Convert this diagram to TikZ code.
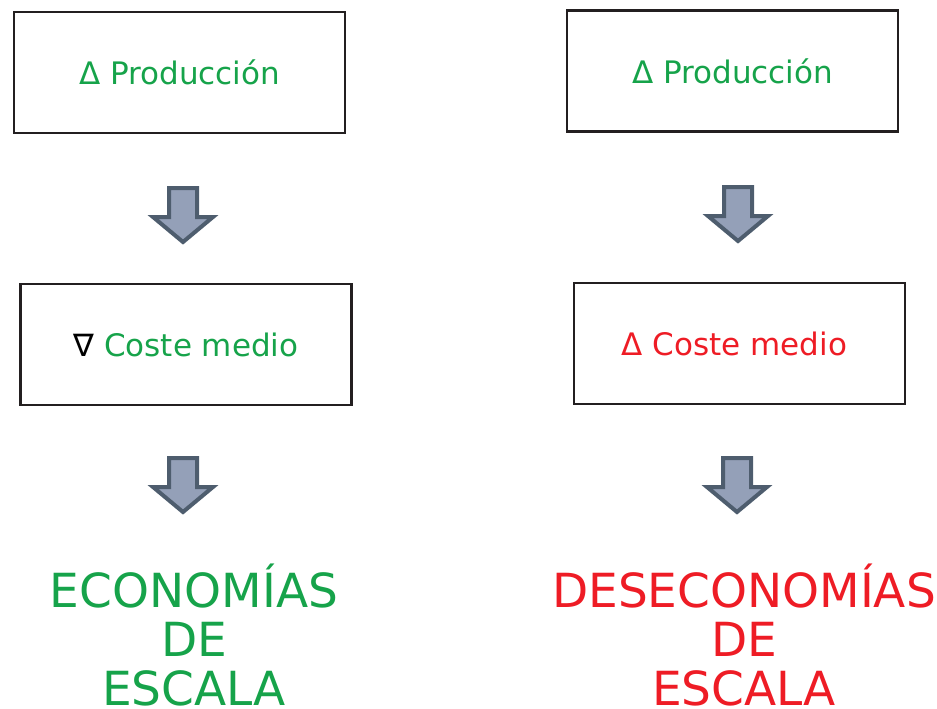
\documentclass[tikz,border=0pt]{standalone}
\usepackage{fontspec}
\setmainfont{DejaVu Sans}
\definecolor{verde}{HTML}{16A34A}
\definecolor{rojo}{HTML}{EE1C25}
\definecolor{borde}{HTML}{231F20}
\definecolor{flechagris}{HTML}{94A0B8}
\definecolor{flechaborde}{HTML}{4E5D6E}
\tikzset{
  caja/.style={draw=borde,line width=2.5pt,minimum width=331pt,minimum height=121pt,font=\fontsize{31}{36}\selectfont},
  lema/.style={align=center,inner sep=0pt,font=\fontsize{47}{49}\selectfont},
  flecha/.pic={\draw[flechaborde,fill=flechagris,line width=4pt,line join=miter]
    (-14,1)--(14,1)--(14,30)--(30,30)--(0,55)--(-30,30)--(-14,30)--cycle;}
}
\begin{document}
\begin{tikzpicture}[x=1pt,y=-1pt]
\useasboundingbox (0,0) rectangle (937,709);
% izquierda
\node[caja,text=verde] (prodizq) at (179.5,72.5) {Δ Producción};
\pic at (183,187) {flecha};
\node[caja] (costeizq) at (186,344.5) {\textcolor{black}{∇}\ \textcolor{verde}{Coste medio}};
\pic at (183,457) {flecha};
\node[lema,text=verde,anchor=base] (econ) at (194,705) {ECONOMÍAS\\DE\\ESCALA};
% derecha
\node[caja,text=verde] (prodder) at (732.5,71) {Δ Producción};
\pic at (738,186) {flecha};
\node[caja,text=rojo] (costeder) at (739.5,343.5) {Δ Coste medio\hspace*{10pt}};
\pic at (737,457) {flecha};
\node[lema,text=rojo,anchor=base] (desecon) at (744,705) {DESECONOMÍAS\\DE\\ESCALA};
\end{tikzpicture}
\end{document}
